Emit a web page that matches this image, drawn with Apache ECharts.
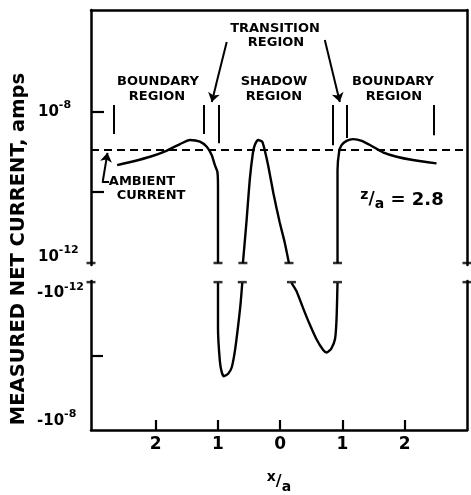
<!DOCTYPE html>
<html><head><meta charset="utf-8">
<script src="https://cdn.jsdelivr.net/npm/echarts@6/dist/echarts.min.js"></script>
<style>html,body{margin:0;padding:0;background:#fff}#c{width:471px;height:495px}</style>
</head><body><div id="c"></div>
<script>
// ---- data (x/a: negative = left side; axis labels show |x/a|) ----
const xTickValues = [-2, -1, 0, 1, 2];
const upperTickExps = [-10, -8];      // decades ticked on upper (positive) scale
const lowerTickExps = [-10];          // decades ticked on lower (negative) scale

// Upper panel: positive net current, amps
const boundaryLeftX = [-2.62, -2.37, -2.09, -1.83, -1.61, -1.45, -1.29, -1.18, -1.10, -1.05, -1.01, -1.00, -1.00];
const boundaryLeftI = [4.7e-10, 5.8e-10, 7.6e-10, 1.07e-9, 1.58e-9, 2.0e-9, 1.82e-9, 1.35e-9, 8.3e-10, 4.7e-10, 3.2e-10, 1.35e-10, 1.66e-12];
const shadowPeakX = [-0.60, -0.54, -0.49, -0.44, -0.41, -0.355, -0.29, -0.25, -0.19, -0.11, -0.01, 0.07, 0.14];
const shadowPeakI = [1.66e-12, 2.0e-11, 2.0e-10, 9.3e-10, 1.48e-9, 2.0e-9, 1.82e-9, 1.12e-9, 4.3e-10, 9.3e-11, 1.78e-11, 5.6e-12, 1.66e-12];
const boundaryRightX = [0.92, 0.92, 0.946, 0.985, 1.065, 1.17, 1.31, 1.47, 1.65, 1.87, 2.13, 2.51];
const boundaryRightI = [1.66e-12, 3.5e-10, 1.02e-9, 1.48e-9, 1.9e-9, 2.1e-9, 1.9e-9, 1.41e-9, 9.8e-10, 7.6e-10, 6.3e-10, 5.2e-10];

// Lower panel: negative net current, amps
const dipLeftX = [-1.0, -1.0, -0.97, -0.94, -0.906, -0.837, -0.78, -0.73, -0.677, -0.638, -0.61];
const dipLeftI = [-1.12e-12, -1.8e-11, -1.41e-10, -2.8e-10, -3.6e-10, -3.1e-10, -2.1e-10, -7.9e-11, -1.62e-11, -4.2e-12, -1.12e-12];
const dipRightX = [0.18, 0.26, 0.37, 0.475, 0.58, 0.69, 0.745, 0.82, 0.88, 0.904, 0.92];
const dipRightI = [-1.12e-12, -1.86e-12, -5.5e-12, -1.48e-11, -3.6e-11, -7.1e-11, -8.3e-11, -6.5e-11, -3.6e-11, -1.1e-11, -1.12e-12];

const ambientI = 1.12e-9;
const zOverA = 2.8;

// axis breaks (curves leave the upper panel / re-enter the lower panel)
const upperBreakX = [-3.04, -1.0, -0.60, 0.14, 0.92, 3.0];
const lowerBreakX = [-3.04, -1.0, -0.61, 0.18, 0.92, 3.0];

// ---- build ----
const L = Math.log10;
const up = (xs, is) => xs.map((x, k) => [x, L(is[k])]);
const dn = (xs, is) => xs.map((x, k) => [x, L(-is[k])]);

const X_MIN = -3.04, X_MAX = 3.0;
const U_MIN = -11.825, U_MAX = -5.45;
const D_MIN = -12, D_MAX = -8;
const FONT = 'DejaVu Sans';
const black = '#000';

const curveStyle = { color: black, width: 2.4 };
function curve(data, xi, yi) {
  return { type: 'line', xAxisIndex: xi, yAxisIndex: yi, data, showSymbol: false, smooth: 0.2,
    lineStyle: curveStyle, silent: true, z: 3 };
}
const seg = (a, b, arrow) => [{ coord: a, symbol: 'none' }, { coord: b, symbol: arrow ? 'arrow' : 'none' }];

const regionBarX = [-2.67, -1.23, -0.98, 0.84, 1.07, 2.47];
const regionBarBottom = [-8.55, -8.55, -8.78, -8.83, -8.65, -8.58];
const markData = regionBarX.map((x, k) => seg([x, -7.825], [x, regionBarBottom[k]]));
markData.push(seg([-0.86, -6.25], [-1.10, -7.75], true));
markData.push(seg([0.716, -6.2], [0.957, -7.75], true));
markData.push(seg([-2.85, -9.725], [-2.775, -9.02], true));
markData.push(seg([-2.865, -9.75], [-2.75, -9.75]));

const lineAxis = { show: true, onZero: false, lineStyle: { color: black, width: 2.5 } };
const sup = (base, p) => '{b|' + base + '}{s|' + p + '}';
const richLab = { b: { fontFamily: FONT, fontSize: 15, fontWeight: 'bold', color: black },
                  s: { fontFamily: FONT, fontSize: 11, fontWeight: 'bold', color: black, padding: [0, 0, 13, 0] } };

const option = {
  animation: false,
  backgroundColor: '#fff',
  grid: [
    { left: 91, right: 4, top: 10, height: 255 },
    { left: 91, right: 4, top: 281, height: 156 }
  ],
  xAxis: [
    { type: 'value', gridIndex: 0, min: X_MIN, max: X_MAX, position: 'top', axisLine: lineAxis,
      axisTick: { show: false }, axisLabel: { show: false }, splitLine: { show: false } },
    { type: 'value', gridIndex: 1, min: X_MIN, max: X_MAX, position: 'bottom', axisLine: lineAxis,
      axisTick: { show: true, inside: true, length: 10, customValues: xTickValues, lineStyle: { color: black, width: 2.2 } },
      axisLabel: { customValues: xTickValues, formatter: v => String(Math.abs(v)), margin: 6,
        fontFamily: FONT, fontSize: 17, fontWeight: 'bold', color: black },
      splitLine: { show: false },
      name: '{x|x}{sl|/}{a|a}', nameLocation: 'middle', nameGap: 40,
      nameTextStyle: { fontSize: 15, rich: {
        x: { fontFamily: FONT, fontSize: 14, fontWeight: 'bold', color: black, padding: [0, 0, 10, 0] },
        sl: { fontFamily: FONT, fontSize: 16, fontWeight: 'bold', color: black },
        a: { fontFamily: FONT, fontSize: 14, fontWeight: 'bold', color: black, padding: [10, 0, 0, 0] } } } }
  ],
  yAxis: [
    { type: 'value', gridIndex: 0, min: U_MIN, max: U_MAX, position: 'left', axisLine: lineAxis,
      axisTick: { show: true, inside: true, length: 13, customValues: upperTickExps, lineStyle: { color: black, width: 2.2 } },
      axisLabel: { customValues: [U_MIN + 0.2, -8], formatter: v => sup('10', Math.round(v)), margin: 53, align: 'left',
        fontSize: 15, fontFamily: FONT, fontWeight: 'bold', rich: richLab },
      splitLine: { show: false } },
    { type: 'value', gridIndex: 0, min: U_MIN, max: U_MAX, position: 'right', axisLine: lineAxis,
      axisTick: { show: false }, axisLabel: { show: false }, splitLine: { show: false } },
    { type: 'value', gridIndex: 1, min: D_MIN, max: D_MAX, inverse: true, position: 'left', axisLine: lineAxis,
      axisTick: { show: true, inside: true, length: 12, customValues: lowerTickExps, lineStyle: { color: black, width: 2.2 } },
      axisLabel: { customValues: [D_MIN + 0.33, D_MAX - 0.25], formatter: v => sup('-10', Math.round(v)), margin: 54, align: 'left',
        fontSize: 15, fontFamily: FONT, fontWeight: 'bold', rich: richLab },
      splitLine: { show: false } },
    { type: 'value', gridIndex: 1, min: D_MIN, max: D_MAX, inverse: true, position: 'right', axisLine: lineAxis,
      axisTick: { show: false }, axisLabel: { show: false }, splitLine: { show: false } }
  ],
  series: [
    curve(up(boundaryLeftX, boundaryLeftI), 0, 0),
    curve(up(shadowPeakX, shadowPeakI), 0, 0),
    curve(up(boundaryRightX, boundaryRightI), 0, 0),
    curve(dn(dipLeftX, dipLeftI), 1, 2),
    curve(dn(dipRightX, dipRightI), 1, 2),
    { type: 'line', xAxisIndex: 0, yAxisIndex: 0, showSymbol: false, silent: true,
      data: [[X_MIN, L(ambientI)], [X_MAX, L(ambientI)]],
      lineStyle: { color: black, width: 2, type: [8, 5] },
      markLine: { silent: true, symbolSize: 9, label: { show: false },
        lineStyle: { color: black, width: 2, type: 'solid' }, data: markData } },
    { type: 'scatter', xAxisIndex: 0, yAxisIndex: 0, silent: true, symbol: 'rect', symbolSize: [9, 2.5],
      itemStyle: { color: black }, data: upperBreakX.map(x => [x, U_MIN + 0.05]) },
    { type: 'scatter', xAxisIndex: 1, yAxisIndex: 2, silent: true, symbol: 'rect', symbolSize: [9, 2.5],
      itemStyle: { color: black }, data: lowerBreakX.map(x => [x, D_MIN + 0.03]) }
  ],
  graphic: [
    { type: 'text', x: 19, y: 249, rotation: Math.PI / 2,
      style: { text: 'MEASURED NET CURRENT, amps', font: 'bold 19.5px DejaVu Sans', fill: black, align: 'center', verticalAlign: 'middle' } },
    ...[
      ['TRANSITION', 275, 29], ['REGION', 276, 43],
      ['BOUNDARY', 158, 82], ['REGION', 157, 97],
      ['SHADOW', 274, 82], ['REGION', 274, 97],
      ['BOUNDARY', 393, 82], ['REGION', 394, 97],
      ['AMBIENT', 142, 182], ['CURRENT', 151, 196]
    ].map(([t, x, y]) => ({ type: 'text', x, y,
      style: { text: t, font: 'bold 13px DejaVu Sans', fill: black, align: 'center', verticalAlign: 'middle' } })),
    { type: 'text', x: 402, y: 200,
      style: { text: '{z|z}{sl|/}{a|a}{n| = ' + zOverA + '}', align: 'center', verticalAlign: 'middle',
        rich: {
          z: { fontFamily: FONT, fontSize: 14, fontWeight: 'bold', fill: black, padding: [0, 0, 9, 0] },
          sl: { fontFamily: FONT, fontSize: 17, fontWeight: 'bold', fill: black },
          a: { fontFamily: FONT, fontSize: 14, fontWeight: 'bold', fill: black, padding: [9, 0, 0, 0] },
          n: { fontFamily: FONT, fontSize: 18, fontWeight: 'bold', fill: black } } } }
  ]
};
echarts.init(document.getElementById('c'), null, { renderer: 'canvas' }).setOption(option);
</script></body></html>
